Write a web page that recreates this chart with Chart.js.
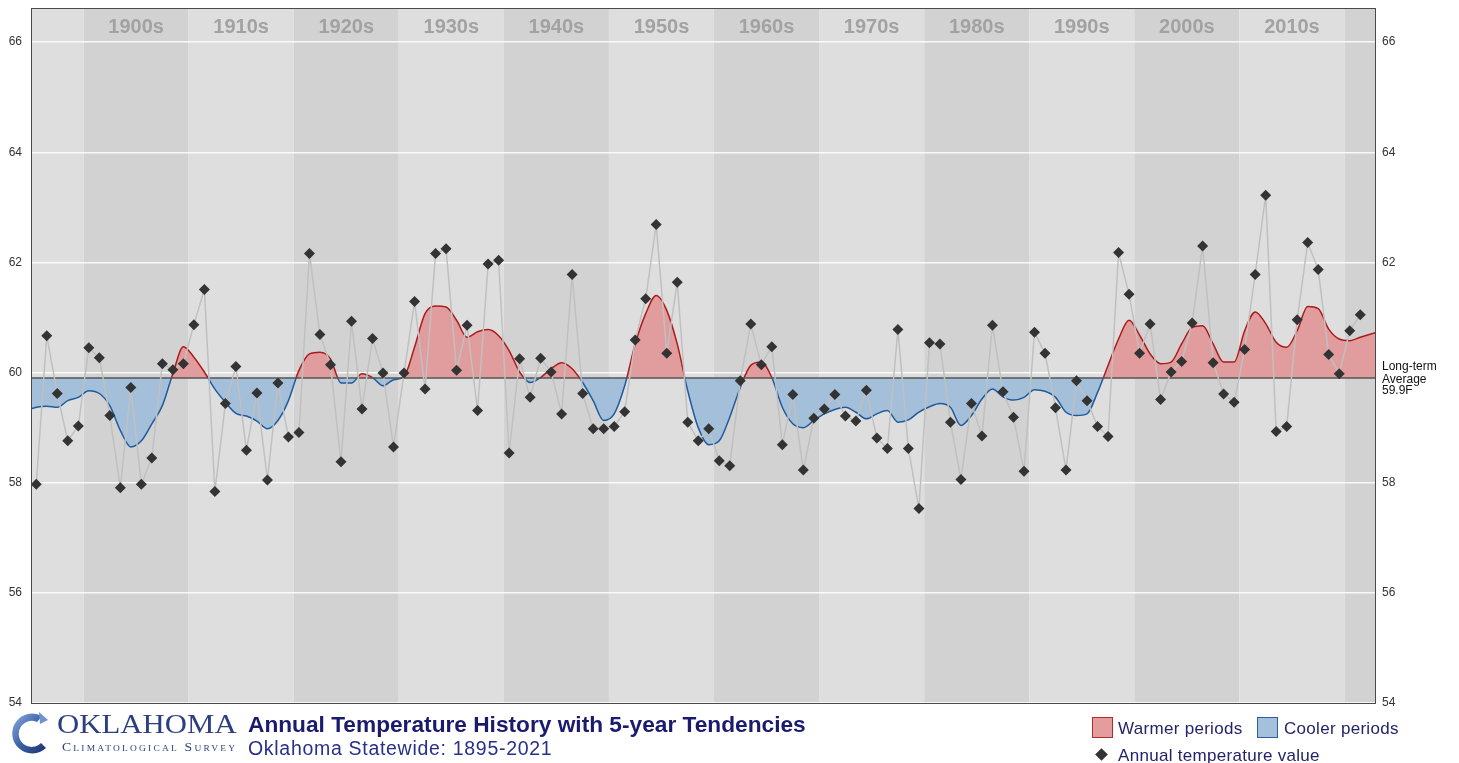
<!DOCTYPE html>
<html>
<head>
<meta charset="utf-8">
<title>Annual Temperature History with 5-year Tendencies</title>
<script src="https://cdn.jsdelivr.net/npm/chart.js@4.4.1/dist/chart.umd.min.js"></script>
<style>
  html, body { margin: 0; padding: 0; background: #fff; }
  #wrap { position: relative; width: 1459px; height: 763px; overflow: hidden; font-family: Arial, "Liberation Sans", sans-serif; }
  #chart { position: absolute; left: 0; top: 0; }
  .abs { position: absolute; white-space: nowrap; line-height: 1; }
  #okla { left: 57px; top: 710px; font-family: "Liberation Serif", "DejaVu Serif", serif; font-size: 28px; color: #2c3f82; transform: scaleX(1.1); transform-origin: left top; }
  #ocs { left: 62px; top: 740px; font-family: "Liberation Serif", "DejaVu Serif", serif; font-size: 13px; color: #2c3f82; font-variant: small-caps; letter-spacing: 2.1px; transform: scaleX(1.05); transform-origin: left top; }
  #title { left: 248px; top: 713px; font-size: 22.7px; font-weight: bold; color: #1a1a6e; }
  #subtitle { left: 248px; top: 739px; font-size: 19.5px; color: #28308a; letter-spacing: 0.7px; }
  .legtxt { font-size: 17px; color: #23236b; letter-spacing: 0.3px; }
  .box { position: absolute; width: 19px; height: 19px; }
</style>
</head>
<body>
<div id="wrap">
  <canvas id="chart" width="1459" height="763"></canvas>
  <svg class="abs" style="left:6px;top:708px" width="48" height="52" viewBox="0 0 48 52">
    <defs>
      <linearGradient id="lg" x1="0" y1="0" x2="1" y2="1">
        <stop offset="0" stop-color="#8fb0e0"/>
        <stop offset="0.5" stop-color="#3d62a8"/>
        <stop offset="1" stop-color="#1d2f6e"/>
      </linearGradient>
    </defs>
    <path d="M36 8 A20 20 0 1 0 40 40 L35 35 A13 13 0 1 1 31 14 Z" fill="url(#lg)"/>
    <path d="M33 4 L42 12 L34 16 Z" fill="#6f93cf"/>
  </svg>
  <div id="okla" class="abs">OKLAHOMA</div>
  <div id="ocs" class="abs">Climatological Survey</div>
  <div id="title" class="abs">Annual Temperature History with 5-year Tendencies</div>
  <div id="subtitle" class="abs">Oklahoma Statewide: 1895-2021</div>

  <div class="box" style="left:1092px;top:717px;background:#e49c9c;border:1px solid #b22a2a"></div>
  <div class="abs legtxt" style="left:1118px;top:720px">Warmer periods</div>
  <div class="box" style="left:1257px;top:717px;background:#a4c0dc;border:1px solid #2a5f9a"></div>
  <div class="abs legtxt" style="left:1284px;top:720px">Cooler periods</div>
  <div class="abs" style="left:1097px;top:750px;width:9px;height:9px;background:#333;transform:rotate(45deg)"></div>
  <div class="abs legtxt" style="left:1118px;top:747px">Annual temperature value</div>
</div>

<script>
// Oklahoma statewide annual temperature, 1895-2021, with 5-year tendency curve

const startYear = 1895;
const longTermAvg = 59.9;
const yTicks = [54, 56, 58, 60, 62, 64, 66];
const yTicksRight = [54, 56, 58, 62, 64, 66];
const decadeStarts = [1890, 1900, 1910, 1920, 1930, 1940, 1950, 1960, 1970, 1980, 1990, 2000, 2010, 2020];
const decadeLabels = ['1900s', '1910s', '1920s', '1930s', '1940s', '1950s', '1960s', '1970s', '1980s', '1990s', '2000s', '2010s'];

// annual mean temperature (F), one value per year from 1895
const annualTemps = [
  57.97, 60.67, 59.62, 58.76, 59.03,
  60.45, 60.27, 59.22, 57.91, 59.73, 57.97, 58.45, 60.16, 60.05, 60.16,
  60.87, 61.51, 57.84, 59.44, 60.11, 58.59, 59.63, 58.05, 59.81, 58.83,
  58.91, 62.16, 60.69, 60.14, 58.38, 60.93, 59.34, 60.62, 59.99, 58.65,
  59.99, 61.29, 59.70, 62.16, 62.25, 60.04, 60.86, 59.31, 61.97, 62.04,
  58.54, 60.25, 59.55, 60.26, 60.01, 59.25, 61.78, 59.62, 58.98, 58.98,
  59.02, 59.29, 60.59, 61.34, 62.69, 60.35, 61.64, 59.10, 58.76, 58.98,
  58.40, 58.31, 59.85, 60.88, 60.14, 60.47, 58.69, 59.60, 58.23, 59.17,
  59.34, 59.60, 59.21, 59.12, 59.68, 58.81, 58.62, 60.78, 58.62, 57.53,
  60.54, 60.52, 59.10, 58.06, 59.44, 58.85, 60.86, 59.65, 59.19, 58.21,
  60.73, 60.35, 59.36, 58.23, 59.85, 59.49, 59.02, 58.84, 62.18, 61.42,
  60.35, 60.88, 59.51, 60.01, 60.20, 60.90, 62.30, 60.18, 59.61, 59.46,
  60.42, 61.78, 63.22, 58.93, 59.02, 60.96, 62.36, 61.87, 60.33, 59.98,
  60.76, 61.05
];

// 5-year tendency curve, read per year from 1895
const tendency = [
  59.37, 59.39, 59.37, 59.49, 59.55,
  59.67, 59.62, 59.40, 58.95, 58.65, 58.76, 59.07, 59.40, 59.98, 60.47,
  60.28, 60.01, 59.70, 59.46, 59.26, 59.21, 59.12, 58.98, 59.13, 59.49,
  60.04, 60.34, 60.37, 60.25, 59.81, 59.81, 59.98, 59.91, 59.76, 59.87,
  59.93, 60.46, 61.07, 61.21, 61.19, 60.95, 60.64, 60.74, 60.78, 60.67,
  60.40, 60.01, 59.82, 59.91, 60.07, 60.18, 60.07, 59.82, 59.49, 59.13,
  59.25, 59.76, 60.52, 61.07, 61.40, 61.13, 60.52, 59.67, 59.00, 58.69,
  58.76, 59.19, 59.73, 60.13, 60.19, 59.91, 59.37, 59.07, 59.00, 59.13,
  59.25, 59.33, 59.37, 59.28, 59.16, 59.25, 59.31, 59.10, 59.14, 59.28,
  59.38, 59.44, 59.37, 59.04, 59.22, 59.52, 59.70, 59.56, 59.50, 59.55,
  59.69, 59.66, 59.55, 59.28, 59.22, 59.25, 59.64, 60.13, 60.61, 60.95,
  60.68, 60.34, 60.16, 60.19, 60.52, 60.82, 60.85, 60.52, 60.19, 60.19,
  60.76, 61.10, 60.89, 60.55, 60.46, 60.76, 61.20, 61.16, 60.79, 60.61,
  60.58, 60.64
];
// curve value at the left and right plot edges
const tendencyEdges = [59.34, 60.73];

const xMin = startYear;
const xMax = startYear + annualTemps.length + 1;

const warmLine = '#ad1a1a';
const coolLine = '#1f5b9c';

const annualPoints = annualTemps.map((v, i) => ({ x: startYear + i + 0.5, y: v }));
const tendencyPoints = [{ x: xMin, y: tendencyEdges[0] }]
  .concat(tendency.map((v, i) => ({ x: startYear + i + 0.5, y: v })))
  .concat([{ x: xMax, y: tendencyEdges[1] }]);

const backdrop = {
  id: 'backdrop',
  beforeDraw(chart) {
    const { ctx, chartArea: a, scales: { x } } = chart;
    ctx.save();
    decadeStarts.forEach(d => {
      const x0 = Math.max(x.getPixelForValue(d), a.left);
      const x1 = Math.min(x.getPixelForValue(d + 10), a.right);
      ctx.fillStyle = (d / 10) % 2 === 0 ? '#d2d2d2' : '#dedede';
      ctx.fillRect(x0, a.top, x1 - x0, a.bottom - a.top);
    });
    ctx.restore();
  },
  beforeDatasetsDraw(chart) {
    const { ctx, chartArea: a, scales: { x } } = chart;
    ctx.save();
    ctx.font = 'bold 20px Arial, "Liberation Sans", sans-serif';
    ctx.fillStyle = '#a2a2a2';
    ctx.textAlign = 'center';
    ctx.textBaseline = 'middle';
    decadeLabels.forEach((lbl, i) => {
      const d = decadeStarts[i + 1];
      ctx.fillText(lbl, x.getPixelForValue(d + 5), a.top + 19);
    });
    ctx.restore();
  },
  afterDraw(chart) {
    const { ctx, chartArea: a, scales: { y } } = chart;
    ctx.save();
    ctx.strokeStyle = '#4a4a4a';
    ctx.lineWidth = 1;
    ctx.strokeRect(a.left + 0.5, a.top + 0.5, a.right - a.left - 1, a.bottom - a.top);
    const by = y.getPixelForValue(longTermAvg);
    ctx.font = '12px Arial, "Liberation Sans", sans-serif';
    ctx.fillStyle = '#111';
    ctx.textBaseline = 'middle';
    ctx.fillText('Long-term', a.right + 6, by - 11);
    ctx.fillText('Average', a.right + 6, by + 1.5);
    ctx.fillText('59.9F', a.right + 6, by + 12.5);
    ctx.restore();
  }
};

// fixed axis widths, and no extra label padding above the plot
function fixAxis(width) {
  return s => {
    s.width = width;
    s.paddingTop = 0;
    s.paddingBottom = 0;
  };
}

const ctx = document.getElementById('chart').getContext('2d');
const chart = new Chart(ctx, {
  type: 'line',
  data: {
    datasets: [
      {
        label: 'Annual temperature value',
        data: annualPoints,
        borderColor: '#c0c0c0',
        borderWidth: 1.5,
        pointStyle: 'rectRot',
        pointRadius: 5.5,
        pointBackgroundColor: '#333333',
        pointBorderColor: '#333333',
        pointBorderWidth: 0,
        tension: 0,
        fill: false,
        order: 0
      },
      {
        label: 'Long-term average',
        data: [{ x: xMin, y: longTermAvg }, { x: xMax, y: longTermAvg }],
        borderColor: '#555555',
        borderWidth: 1.5,
        pointRadius: 0,
        fill: false,
        order: 1
      },
      {
        label: 'Tendency',
        data: tendencyPoints,
        borderWidth: 1.5,
        pointRadius: 0,
        cubicInterpolationMode: 'monotone',
        borderColor: function(context) {
          const c = context.chart;
          const a = c.chartArea;
          if (!a) return warmLine;
          const by = c.scales.y.getPixelForValue(longTermAvg);
          const f = Math.min(Math.max((by - a.top) / (a.bottom - a.top), 0), 1);
          const g = c.ctx.createLinearGradient(0, a.top, 0, a.bottom);
          g.addColorStop(0, warmLine);
          g.addColorStop(f, warmLine);
          g.addColorStop(f, coolLine);
          g.addColorStop(1, coolLine);
          return g;
        },
        fill: {
          target: { value: longTermAvg },
          above: '#e19d9d',
          below: '#a3bfda'
        },
        order: 2
      }
    ]
  },
  options: {
    responsive: false,
    animation: false,
    devicePixelRatio: 1,
    layout: {
      autoPadding: false,
      padding: { top: 8, bottom: 60, left: 0, right: 0 }
    },
    plugins: {
      legend: { display: false },
      tooltip: { enabled: false }
    },
    scales: {
      x: {
        type: 'linear',
        min: xMin,
        max: xMax,
        display: false
      },
      y: {
        position: 'left',
        min: 54,
        max: 66.62,
        afterBuildTicks: s => { s.ticks = yTicks.map(v => ({ value: v })); },
        afterFit: fixAxis(31),
        grid: { color: 'rgba(255,255,255,0.85)', lineWidth: 1.5, drawTicks: false },
        border: { display: false },
        ticks: { color: '#333', font: { size: 12, family: 'Arial' }, padding: 9 }
      },
      y2: {
        position: 'right',
        min: 54,
        max: 66.62,
        afterBuildTicks: s => { s.ticks = yTicksRight.map(v => ({ value: v })); },
        afterFit: fixAxis(83),
        grid: { display: false, drawTicks: false },
        border: { display: false },
        ticks: { color: '#333', font: { size: 12, family: 'Arial' }, padding: 6 }
      }
    }
  },
  plugins: [backdrop]
});
</script>
</body>
</html>
